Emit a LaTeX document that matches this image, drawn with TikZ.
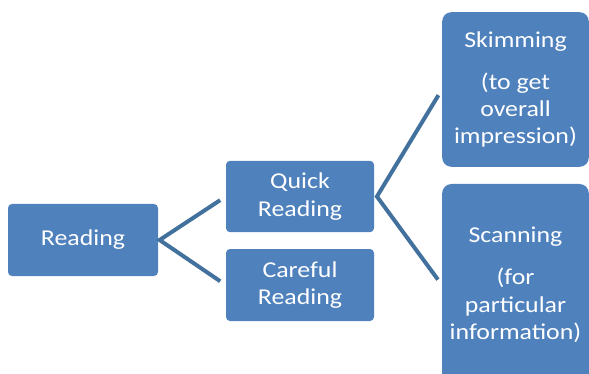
\documentclass[tikz,border=0pt]{standalone}
\usepackage{fontspec}
\newfontfamily\calibri[FakeStretch=1.14]{Carlito}
\definecolor{boxblue}{RGB}{79,129,189}
\definecolor{linkblue}{RGB}{65,113,156}

\begin{document}
\begin{tikzpicture}[
    x=0.75pt, y=-0.75pt,
    box/.style={rectangle, fill=boxblue, text=white, inner sep=0pt, align=center, font=\calibri\fontsize{17}{20.5}\selectfont},
    smallbox/.style={box, rounded corners=3pt, minimum width=111pt, minimum height=53.5pt},
    bigbox/.style={box, rounded corners=7pt, minimum width=110pt},
    link/.style={draw=linkblue, line width=3pt, shorten <=5pt, shorten >=5pt}
]
\useasboundingbox (0,0) rectangle (589,374);

\node[smallbox, minimum width=112.5pt, minimum height=54pt] (read) at (83,240) {Reading};

\node[smallbox] (quick) at (300,196.5) {Quick\\Reading};
\node[smallbox, minimum height=54pt] (careful) at (300,285) {Careful\\Reading};

\node[bigbox, minimum height=116pt] (skim) at (515.5,89.5) {Skimming\\[11pt](to get\\overall\\impression)};
\node[bigbox, minimum height=151.5pt] (scan) at (515.5,285) {Scanning\\[11pt](for\\particular\\information)};

% Connections
\draw[link] (quick.west) -- ([xshift=1pt]read.east) -- (careful.west);
\draw[link] (skim.west) -- ([xshift=2pt]quick.east) -- (scan.west);

\end{tikzpicture}
\end{document}
